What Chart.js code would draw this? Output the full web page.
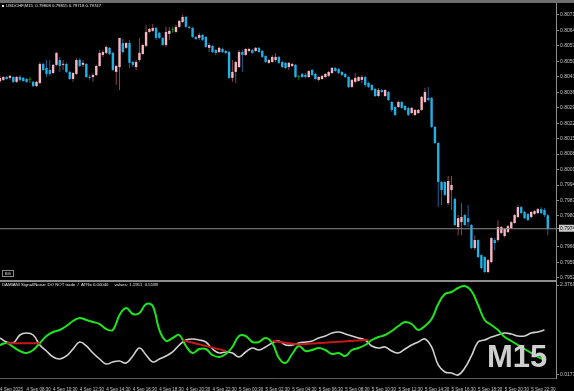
<!DOCTYPE html>
<html>
<head>
<meta charset="utf-8">
<title>USDCHF,M15</title>
<script src="https://cdn.jsdelivr.net/npm/chart.js@4.4.1/dist/chart.umd.min.js"></script>
<style>
	html, body { margin: 0; padding: 0; background: #000; }
	#screen { position: relative; width: 574px; height: 391px; overflow: hidden; background: #000; font-family: "Liberation Sans", Arial, sans-serif; }
	#screen canvas { position: absolute; left: 0; }
	#mainChart { top: 0; }
	#signalChart { top: 281px; }
	.top-strip { position: absolute; left: 0; top: 0; width: 574px; height: 3px; background: #6e6e6e; }
	.pane-split { position: absolute; left: 0; top: 280px; width: 557px; height: 2px; background: #8c8c8c; }
	.caption { position: absolute; font-size: 4.3px; line-height: 4px; white-space: pre; color: #e6e6e6; }
	.sym-icon { position: absolute; left: 2px; top: 5px; width: 2px; height: 2px; background: #e6e6e6; }
	.bg-btn { position: absolute; left: 2px; top: 270px; width: 12px; height: 7px; box-sizing: border-box; border: 1px solid #8c8c8c; color: #e6e6e6; font-size: 4px; line-height: 5px; text-align: center; }
	.tf { position: absolute; left: 487px; top: 341px; font: bold 31px/31px "Liberation Sans", Arial, sans-serif; color: #cfcfcf; }
</style>
</head>
<body>
<div id="screen">
	<canvas id="mainChart" width="574" height="280"></canvas>
	<canvas id="signalChart" width="574" height="110"></canvas>
	<div class="top-strip"></div>
	<div class="pane-split"></div>
	<div class="sym-icon"></div>
	<div class="caption" style="left:6px; top:4px;">USDCHF,M15  0.79808 0.79815 0.79718 0.79747</div>
	<div class="caption" style="left:2px; top:283px;">DAMIANI Signal/Noise: DO NOT trade  /  ATR= 0.00040     values: 1.1951  0.5189</div>
	<div class="bg-btn">BG</div>
	<div class="tf">M15</div>
</div>
<script>
"use strict";

// M15 bars, 4 Sep 2025 06:30 .. 5 Sep 2025 23:45
var opens = [
	0.80416, 0.80421, 0.80434, 0.80430, 0.80434, 0.80412, 0.80434, 0.80430, 0.80425, 0.80421,
	0.80412, 0.80393, 0.80407, 0.80493, 0.80475, 0.80466, 0.80452, 0.80489, 0.80511, 0.80489,
	0.80493, 0.80457, 0.80425, 0.80448, 0.80511, 0.80489, 0.80493, 0.80434, 0.80434, 0.80443,
	0.80484, 0.80534, 0.80543, 0.80566, 0.80543, 0.80457, 0.80479, 0.80588, 0.80566, 0.80588,
	0.80502, 0.80479, 0.80511, 0.80538, 0.80575, 0.80638, 0.80643, 0.80656, 0.80634, 0.80611,
	0.80579, 0.80629, 0.80647, 0.80638, 0.80661, 0.80683, 0.80706, 0.80661, 0.80656, 0.80615,
	0.80611, 0.80624, 0.80615, 0.80566, 0.80575, 0.80556, 0.80547, 0.80561, 0.80552, 0.80547,
	0.80430, 0.80457, 0.80479, 0.80547, 0.80534, 0.80552, 0.80556, 0.80552, 0.80566, 0.80552,
	0.80529, 0.80498, 0.80502, 0.80511, 0.80525, 0.80502, 0.80498, 0.80479, 0.80484, 0.80489,
	0.80434, 0.80448, 0.80443, 0.80434, 0.80466, 0.80448, 0.80421, 0.80425, 0.80434, 0.80439,
	0.80452, 0.80475, 0.80470, 0.80457, 0.80448, 0.80434, 0.80389, 0.80412, 0.80416, 0.80421,
	0.80434, 0.80407, 0.80398, 0.80380, 0.80348, 0.80375, 0.80348, 0.80366, 0.80321, 0.80298,
	0.80298, 0.80321, 0.80303, 0.80294, 0.80271, 0.80262, 0.80271, 0.80285, 0.80321, 0.80339,
	0.80339, 0.80208, 0.80135, 0.79959, 0.79959, 0.79863, 0.79922, 0.79882, 0.79755, 0.79777,
	0.79809, 0.79795, 0.79764, 0.79660, 0.79696, 0.79628, 0.79619, 0.79551, 0.79596, 0.79696,
	0.79696, 0.79728, 0.79714, 0.79732, 0.79750, 0.79773, 0.79800, 0.79845, 0.79823, 0.79814,
	0.79800, 0.79814, 0.79818, 0.79836, 0.79832, 0.79808
];
var highs = [
	0.80439, 0.80439, 0.80439, 0.80443, 0.80439, 0.80439, 0.80443, 0.80434, 0.80430, 0.80434,
	0.80416, 0.80416, 0.80502, 0.80498, 0.80511, 0.80511, 0.80493, 0.80547, 0.80525, 0.80511,
	0.80498, 0.80461, 0.80457, 0.80520, 0.80520, 0.80511, 0.80498, 0.80443, 0.80452, 0.80489,
	0.80556, 0.80556, 0.80575, 0.80570, 0.80547, 0.80489, 0.80611, 0.80606, 0.80593, 0.80602,
	0.80507, 0.80511, 0.80611, 0.80584, 0.80670, 0.80656, 0.80674, 0.80661, 0.80638, 0.80615,
	0.80661, 0.80661, 0.80661, 0.80670, 0.80692, 0.80715, 0.80711, 0.80665, 0.80661, 0.80620,
	0.80634, 0.80629, 0.80620, 0.80588, 0.80579, 0.80561, 0.80570, 0.80566, 0.80556, 0.80552,
	0.80511, 0.80507, 0.80556, 0.80556, 0.80566, 0.80566, 0.80561, 0.80570, 0.80570, 0.80556,
	0.80534, 0.80516, 0.80534, 0.80543, 0.80529, 0.80507, 0.80502, 0.80502, 0.80498, 0.80493,
	0.80443, 0.80452, 0.80452, 0.80466, 0.80470, 0.80452, 0.80439, 0.80443, 0.80452, 0.80461,
	0.80479, 0.80479, 0.80475, 0.80461, 0.80452, 0.80439, 0.80425, 0.80452, 0.80439, 0.80443,
	0.80439, 0.80412, 0.80402, 0.80384, 0.80384, 0.80380, 0.80380, 0.80371, 0.80325, 0.80303,
	0.80325, 0.80325, 0.80307, 0.80298, 0.80298, 0.80289, 0.80289, 0.80348, 0.80384, 0.80389,
	0.80344, 0.80212, 0.80140, 0.79963, 0.79963, 0.79986, 0.79986, 0.79886, 0.79809, 0.79863,
	0.79814, 0.79854, 0.79768, 0.79718, 0.79700, 0.79632, 0.79623, 0.79610, 0.79709, 0.79705,
	0.79786, 0.79759, 0.79750, 0.79764, 0.79782, 0.79814, 0.79854, 0.79850, 0.79827, 0.79818,
	0.79827, 0.79832, 0.79841, 0.79845, 0.79841, 0.79815
];
var lows = [
	0.80407, 0.80416, 0.80421, 0.80421, 0.80407, 0.80407, 0.80412, 0.80412, 0.80407, 0.80407,
	0.80389, 0.80389, 0.80402, 0.80461, 0.80434, 0.80439, 0.80448, 0.80484, 0.80457, 0.80466,
	0.80452, 0.80421, 0.80412, 0.80443, 0.80479, 0.80479, 0.80430, 0.80421, 0.80412, 0.80439,
	0.80479, 0.80525, 0.80538, 0.80534, 0.80461, 0.80398, 0.80375, 0.80543, 0.80561, 0.80475,
	0.80479, 0.80466, 0.80502, 0.80534, 0.80570, 0.80634, 0.80638, 0.80602, 0.80606, 0.80575,
	0.80570, 0.80602, 0.80634, 0.80634, 0.80656, 0.80679, 0.80656, 0.80652, 0.80611, 0.80602,
	0.80602, 0.80597, 0.80566, 0.80547, 0.80543, 0.80534, 0.80543, 0.80543, 0.80538, 0.80425,
	0.80412, 0.80407, 0.80475, 0.80457, 0.80529, 0.80547, 0.80538, 0.80547, 0.80543, 0.80520,
	0.80498, 0.80493, 0.80498, 0.80502, 0.80493, 0.80475, 0.80470, 0.80466, 0.80479, 0.80430,
	0.80421, 0.80430, 0.80430, 0.80430, 0.80439, 0.80421, 0.80416, 0.80421, 0.80430, 0.80434,
	0.80448, 0.80457, 0.80448, 0.80439, 0.80430, 0.80384, 0.80384, 0.80407, 0.80412, 0.80407,
	0.80389, 0.80384, 0.80371, 0.80344, 0.80344, 0.80362, 0.80344, 0.80325, 0.80276, 0.80258,
	0.80294, 0.80289, 0.80280, 0.80258, 0.80267, 0.80258, 0.80267, 0.80280, 0.80316, 0.80325,
	0.80203, 0.80131, 0.79845, 0.79854, 0.79895, 0.79854, 0.79832, 0.79759, 0.79718, 0.79718,
	0.79759, 0.79755, 0.79655, 0.79650, 0.79614, 0.79564, 0.79546, 0.79546, 0.79591, 0.79650,
	0.79687, 0.79723, 0.79709, 0.79728, 0.79746, 0.79768, 0.79795, 0.79814, 0.79791, 0.79782,
	0.79795, 0.79809, 0.79814, 0.79814, 0.79800, 0.79718
];
var closes = [
	0.80430, 0.80434, 0.80425, 0.80439, 0.80412, 0.80434, 0.80421, 0.80416, 0.80412, 0.80421,
	0.80393, 0.80412, 0.80493, 0.80466, 0.80448, 0.80448, 0.80489, 0.80543, 0.80484, 0.80493,
	0.80457, 0.80425, 0.80452, 0.80511, 0.80484, 0.80498, 0.80434, 0.80430, 0.80443, 0.80484,
	0.80543, 0.80547, 0.80570, 0.80538, 0.80466, 0.80484, 0.80611, 0.80547, 0.80588, 0.80498,
	0.80489, 0.80502, 0.80543, 0.80579, 0.80638, 0.80652, 0.80656, 0.80611, 0.80611, 0.80579,
	0.80638, 0.80643, 0.80647, 0.80661, 0.80688, 0.80706, 0.80661, 0.80656, 0.80615, 0.80606,
	0.80624, 0.80602, 0.80570, 0.80579, 0.80547, 0.80543, 0.80566, 0.80547, 0.80543, 0.80430,
	0.80457, 0.80502, 0.80547, 0.80534, 0.80561, 0.80561, 0.80543, 0.80566, 0.80547, 0.80525,
	0.80502, 0.80511, 0.80525, 0.80525, 0.80498, 0.80479, 0.80475, 0.80498, 0.80493, 0.80434,
	0.80434, 0.80434, 0.80434, 0.80461, 0.80443, 0.80425, 0.80434, 0.80439, 0.80448, 0.80457,
	0.80475, 0.80461, 0.80452, 0.80443, 0.80434, 0.80389, 0.80421, 0.80430, 0.80434, 0.80434,
	0.80398, 0.80389, 0.80375, 0.80348, 0.80375, 0.80366, 0.80375, 0.80330, 0.80285, 0.80262,
	0.80321, 0.80294, 0.80285, 0.80262, 0.80294, 0.80285, 0.80285, 0.80344, 0.80366, 0.80330,
	0.80208, 0.80135, 0.79959, 0.79922, 0.79900, 0.79963, 0.79945, 0.79764, 0.79795, 0.79800,
	0.79764, 0.79777, 0.79660, 0.79696, 0.79619, 0.79569, 0.79551, 0.79605, 0.79705, 0.79682,
	0.79755, 0.79755, 0.79746, 0.79759, 0.79777, 0.79809, 0.79845, 0.79818, 0.79795, 0.79786,
	0.79823, 0.79827, 0.79836, 0.79818, 0.79809, 0.79747
];

// Time axis: bar index of each label and its text
var timeTickBars = [0, 8, 16, 24, 32, 40, 48, 56, 64, 72, 80, 88, 96, 104, 112, 120, 128, 136, 144, 152, 160];
var timeTickLabels = [
	"4 Sep 2025", "4 Sep 08:30", "4 Sep 10:30", "4 Sep 12:30", "4 Sep 14:30", "4 Sep 16:30", "4 Sep 18:30",
	"4 Sep 20:30", "4 Sep 22:30", "5 Sep 00:30", "5 Sep 02:30", "5 Sep 04:30", "5 Sep 06:30", "5 Sep 08:30",
	"5 Sep 10:30", "5 Sep 12:30", "5 Sep 14:30", "5 Sep 16:30", "5 Sep 18:30", "5 Sep 20:30", "5 Sep 22:30"
];

// Price axis
var priceTicks = [
	0.80715, 0.80645, 0.80575, 0.80505, 0.80435, 0.80365, 0.80295, 0.80225, 0.80155,
	0.80085, 0.80015, 0.79945, 0.79875, 0.79805, 0.79665, 0.79595, 0.79525
];
var lastPrice = 0.79747;

// Damiani Signal/Noise, one reading every 2nd bar
var lineStep = 2;
var greenVals = [
	0.804, 0.856, 0.752, 0.647, 0.595, 0.673, 0.856, 1.040, 1.145, 1.197, 1.302, 1.433, 1.511, 1.459, 1.407, 1.354,
	1.223, 1.197, 1.590, 1.774, 1.616, 1.642, 1.878, 1.826, 1.197, 0.909, 0.987, 1.066, 0.778, 0.595, 0.699, 0.699,
	0.542, 0.490, 0.568, 0.752, 1.040, 1.040, 0.883, 0.883, 0.987, 0.856, 0.463, 0.332, 0.568, 0.778, 0.647, 0.673,
	0.726, 0.673, 0.568, 0.595, 0.516, 0.673, 0.726, 0.804, 0.935, 1.014, 1.066, 1.171, 1.302, 1.407, 1.354, 1.197,
	1.302, 1.485, 1.878, 2.140, 2.193, 2.297, 2.350, 2.219, 1.852, 1.459, 1.328, 1.197, 1.014, 0.909, 0.804, 0.699,
	0.595, 0.490, 0.411
];
var whiteVals = [
	0.987, 0.883, 0.856, 1.066, 1.118, 1.066, 0.804, 0.647, 0.490, 0.437, 0.516, 0.699, 0.883, 0.778, 0.595, 0.437,
	0.306, 0.359, 0.385, 0.332, 0.516, 0.726, 0.542, 0.359, 0.437, 0.516, 0.621, 0.804, 0.935, 0.961, 0.935, 0.883,
	0.699, 0.595, 0.621, 0.595, 0.490, 0.621, 0.726, 0.673, 0.752, 0.856, 0.909, 0.804, 0.804, 0.856, 0.883, 0.909,
	0.987, 1.040, 1.118, 1.145, 1.092, 1.040, 0.987, 0.935, 0.778, 0.726, 0.752, 0.647, 0.595, 0.699, 0.804, 0.883,
	0.961, 0.752, 0.280, 0.097, 0.071, 0.018, 0.201, 0.516, 0.883, 0.935, 1.014, 1.066, 1.118, 1.092, 1.040, 1.040,
	1.118, 1.145, 1.197
];
// red threshold segments (null = break)
var redBars = [2, 12, null, 55, 68, null, 82, 90, 111];
var redVals = [0.85, 0.85, null, 0.93, 0.65, null, 0.91, 0.82, 0.94];
var signalTicks = [2.3761, 0.0177];

var axisFont = "Liberation Sans, Arial, sans-serif";

function candleColor(i, up, down, flat) {
	if (closes[i] > opens[i]) return up;
	if (closes[i] < opens[i]) return down;
	return flat;
}

// Initialize price pane
function initMainChart() {
	var wicks = [];
	var bodies = [];
	for (var i = 0; i < opens.length; i++) {
		wicks.push({ x: i, y: [lows[i], highs[i]] });
		bodies.push({ x: i, y: [opens[i], closes[i]] });
	}
	new Chart(document.getElementById("mainChart"), {
		type: "bar",
		data: {
			datasets: [
				{
					type: "line",
					data: [{ x: -5, y: lastPrice }, { x: 175, y: lastPrice }],
					borderColor: "#8c8c8c",
					borderWidth: 1,
					pointRadius: 0,
					order: 1,
				},
				{
					data: bodies,
					grouped: false,
					maxBarThickness: 2.5,
					minBarLength: 1,
					backgroundColor: function (ctx) {
						return candleColor(ctx.dataIndex, "#f7b6c3", "#1fb2e6", "#0a8a0a");
					},
					order: 2,
				},
				{
					data: wicks,
					grouped: false,
					maxBarThickness: 1,
					backgroundColor: function (ctx) {
						return candleColor(ctx.dataIndex, "#8a4650", "#1f5f96", "#0a8a0a");
					},
					order: 3,
				},
			],
		},
		options: {
			responsive: false,
			animation: false,
			events: [],
			layout: { padding: { top: 3, left: 0, right: 0, bottom: 0 } },
			plugins: {
				legend: { display: false },
				tooltip: { enabled: false },
			},
			scales: {
				x: {
					type: "linear",
					display: false,
					offset: false,
					bounds: "data",
					min: 0,
					max: 167.47,
				},
				y: {
					position: "right",
					bounds: "data",
					min: 0.79515,
					max: 0.80769,
					afterBuildTicks: function (scale) {
						scale.ticks = priceTicks.concat([lastPrice]).map(function (v) {
							return { value: v };
						});
					},
					afterFit: function (scale) {
						scale.width = 18;
						scale.paddingTop = 0;
						scale.paddingBottom = 0;
					},
					grid: {
						drawOnChartArea: false,
						color: "#8c8c8c",
						tickLength: 3,
					},
					border: {
						color: "#8c8c8c",
					},
					ticks: {
						autoSkip: false,
						padding: 1,
						color: function (ctx) {
							return ctx.tick && ctx.tick.value === lastPrice ? "#000" : "#c8c8c8";
						},
						showLabelBackdrop: function (ctx) {
							return !!(ctx.tick && ctx.tick.value === lastPrice);
						},
						backdropColor: "#c8c8c8",
						backdropPadding: { top: 1, bottom: 0, left: 1, right: 1 },
						font: { family: axisFont, size: 5 },
						callback: function (value) {
							return value.toFixed(5);
						},
					},
				},
			},
		},
	});
}

// Initialize Damiani Signal/Noise pane
function initSignalChart() {
	var green = greenVals.map(function (v, k) { return { x: k * lineStep, y: v }; });
	var white = whiteVals.map(function (v, k) { return { x: k * lineStep, y: v }; });
	var red = redBars.map(function (b, k) { return { x: b, y: redVals[k] }; });
	new Chart(document.getElementById("signalChart"), {
		type: "line",
		data: {
			datasets: [
				{
					data: red,
					borderColor: "#c81818",
					borderWidth: 2,
					pointRadius: 0,
					tension: 0,
					order: 1,
				},
				{
					data: green,
					borderColor: "#1ee61e",
					borderWidth: 2,
					pointRadius: 0,
					tension: 0.4,
					order: 2,
				},
				{
					data: white,
					borderColor: "#d2d2d2",
					borderWidth: 1.6,
					pointRadius: 0,
					tension: 0.4,
					order: 3,
				},
			],
		},
		options: {
			responsive: false,
			animation: false,
			events: [],
			layout: { padding: { top: 1, left: 0, right: 0, bottom: 0 } },
			plugins: {
				legend: { display: false },
				tooltip: { enabled: false },
			},
			scales: {
				x: {
					type: "linear",
					offset: false,
					bounds: "data",
					min: 0,
					max: 167.47,
					afterBuildTicks: function (scale) {
						scale.ticks = timeTickBars.map(function (b) {
							return { value: b };
						});
					},
					afterFit: function (scale) {
						scale.height = 13;
						scale.paddingLeft = 0;
						scale.paddingRight = 0;
					},
					grid: { display: false },
					border: { color: "#5a5a5a" },
					ticks: {
						autoSkip: false,
						maxRotation: 0,
						minRotation: 0,
						align: "start",
						padding: 1,
						color: "#c8c8c8",
						font: { family: axisFont, size: 4.5 },
						callback: function (value) {
							return timeTickLabels[timeTickBars.indexOf(value)];
						},
					},
				},
				y: {
					position: "right",
					bounds: "data",
					min: -0.061,
					max: 2.455,
					afterBuildTicks: function (scale) {
						scale.ticks = signalTicks.map(function (v) {
							return { value: v };
						});
					},
					afterFit: function (scale) {
						scale.width = 18;
						scale.paddingTop = 0;
						scale.paddingBottom = 0;
					},
					grid: {
						drawOnChartArea: false,
						color: "#8c8c8c",
						tickLength: 3,
					},
					border: { color: "#8c8c8c" },
					ticks: {
						autoSkip: false,
						padding: 1,
						color: "#c8c8c8",
						font: { family: axisFont, size: 5 },
						callback: function (value) {
							return value.toFixed(4);
						},
					},
				},
			},
		},
	});
}

(function () {
	initMainChart();
	initSignalChart();
})();
</script>
</body>
</html>
